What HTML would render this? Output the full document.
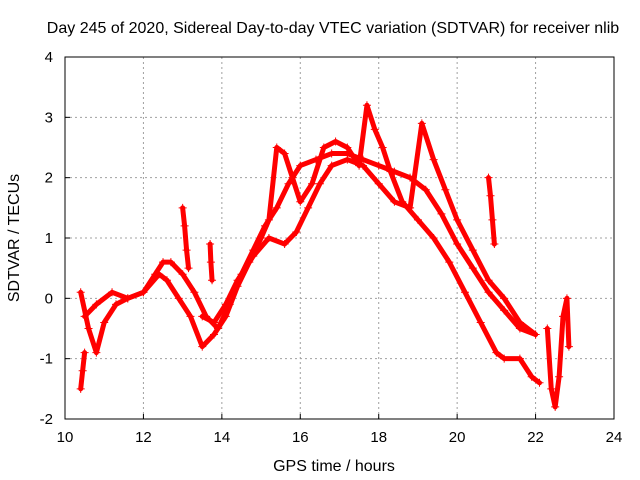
<!DOCTYPE html>
<html><head><meta charset="utf-8"><style>
body{margin:0;background:#fff}
svg{display:block}
text{font-family:"Liberation Sans",sans-serif;font-size:15px;fill:#000}
.big{font-size:16px}
</style></head><body>
<svg id="chart" width="640" height="480" viewBox="0 0 640 480">
<rect width="640" height="480" fill="#fff"/>
<text class="big" x="333" y="33" text-anchor="middle">Day 245 of 2020, Sidereal Day-to-day VTEC variation (SDTVAR) for receiver nlib</text>
<g id="grid"></g>
<g id="axes"></g>
<g id="marks"></g>
<rect x="65" y="57" width="549" height="362" fill="none" stroke="#000"/>
<text class="big" x="334" y="471" text-anchor="middle">GPS time / hours</text>
<text class="big" transform="translate(19,238) rotate(-90)" text-anchor="middle">SDTVAR / TECUs</text>
</svg>
<script>
const xTicks=[10,12,14,16,18,20,22,24];
const yTicks=[-2,-1,0,1,2,3,4];
const t1x=[10.4,10.6,10.8,11.0,11.3,11.6,12.0,12.3,12.5,12.7,13.0,13.3,13.6,13.9,14.2,14.5,14.8,15.1,15.4,15.7,16.0,16.4,16.8,17.2,17.6,18.0,18.4,18.8,19.2,19.6,20.0,20.4,20.8,21.2,21.6,22.0];
const t1y=[0.1,-0.5,-0.9,-0.4,-0.1,0.0,0.1,0.4,0.6,0.6,0.4,0.1,-0.3,-0.5,-0.1,0.4,0.8,1.2,1.5,1.9,2.2,2.3,2.4,2.4,2.3,2.2,2.1,2.0,1.8,1.4,0.9,0.5,0.1,-0.2,-0.5,-0.6];
const t2x=[10.5,10.8,11.2,11.6,12.0,12.4,12.6,12.9,13.2,13.5,13.8,14.1,14.4,14.7,15.0,15.2,15.4,15.6,15.8,16.0,16.3,16.6,16.9,17.2,17.5,17.7,17.9,18.1,18.3,18.6,19.0,19.4,19.8,20.2,20.6,21.0,21.2,21.6,21.9,22.1];
const t2y=[-0.3,-0.1,0.1,0.0,0.1,0.4,0.3,0.0,-0.3,-0.8,-0.6,-0.3,0.2,0.6,1.0,1.3,2.5,2.4,2.0,1.6,1.9,2.5,2.6,2.5,2.2,3.2,2.8,2.5,2.1,1.6,1.3,1.0,0.6,0.1,-0.4,-0.9,-1.0,-1.0,-1.3,-1.4];
const t3x=[13.5,13.8,14.1,14.4,14.8,15.2,15.6,15.9,16.2,16.5,16.8,17.2,17.6,18.0,18.4,18.8,19.1,19.4,19.7,20.0,20.4,20.8,21.2,21.6,22.0];
const t3y=[-0.3,-0.4,-0.1,0.3,0.7,1.0,0.9,1.1,1.5,1.9,2.2,2.3,2.2,1.9,1.6,1.5,2.9,2.3,1.8,1.3,0.8,0.3,0.0,-0.4,-0.6];
const t4x=[22.3,22.4,22.5,22.6,22.7,22.8,22.85];
const t4y=[-0.5,-1.5,-1.8,-1.3,-0.3,0.0,-0.8];
const t5x=[13.0,13.05,13.1,13.15];
const t5y=[1.5,1.2,0.8,0.5];
const t6x=[13.7,13.72,13.75];
const t6y=[0.9,0.6,0.3];
const t7x=[20.8,20.85,20.9,20.95];
const t7y=[2.0,1.7,1.3,0.9];
const t8x=[10.4,10.45,10.5];
const t8y=[-1.5,-1.2,-0.9];
const series=[[t1x,t1y],[t2x,t2y],[t3x,t3y],[t4x,t4y],[t5x,t5y],[t6x,t6y],[t7x,t7y],[t8x,t8y]];
const NS='http://www.w3.org/2000/svg';
const X=v=>65+(v-10)/14*549;
const Y=v=>419-(v+2)/6*362;
function mk(tag,attrs,parent){const e=document.createElementNS(NS,tag);for(const k in attrs)e.setAttribute(k,attrs[k]);parent.appendChild(e);return e;}
const grid=document.getElementById('grid'),axes=document.getElementById('axes'),marks=document.getElementById('marks');
xTicks.forEach(t=>{
 if(t>10&&t<24){const g=mk('line',{x1:X(t),x2:X(t),y1:57,y2:419,stroke:'#a0a0a0','stroke-dasharray':'2,3'},grid);
 }
 const tk=mk('line',{x1:X(t),x2:X(t),y1:419,y2:414,stroke:'#000'},axes);
 
 const tx=mk('text',{x:X(t),y:442,'text-anchor':'middle'},axes);tx.textContent=t;
 
});
yTicks.forEach(t=>{
 if(t>-2&&t<4){const g=mk('line',{x1:65,x2:614,y1:Y(t),y2:Y(t),stroke:'#a0a0a0','stroke-dasharray':'2,3'},grid);
 }
 const tk=mk('line',{x1:65,x2:70,y1:Y(t),y2:Y(t),stroke:'#000'},axes);
 
 const tx=mk('text',{x:53,y:Y(t)+5,'text-anchor':'end'},axes);tx.textContent=t;
 
});
series.forEach((s,i)=>{
 const pts=s[0].map((x,j)=>X(x)+','+Y(s[1][j])).join(' ');
 const pl=mk('polyline',{points:pts,fill:'none',stroke:'#ff0000','stroke-width':5,'stroke-linejoin':'round','stroke-linecap':'round'},marks);
 
 s[0].forEach((x,j)=>{
  const px=X(x),py=Y(s[1][j]);
  const p=mk('path',{d:`M${px-4},${py}h8M${px},${py-4}v8`,stroke:'#ff0000','stroke-width':1},marks);
  
 });
});
</script>
</body></html>
